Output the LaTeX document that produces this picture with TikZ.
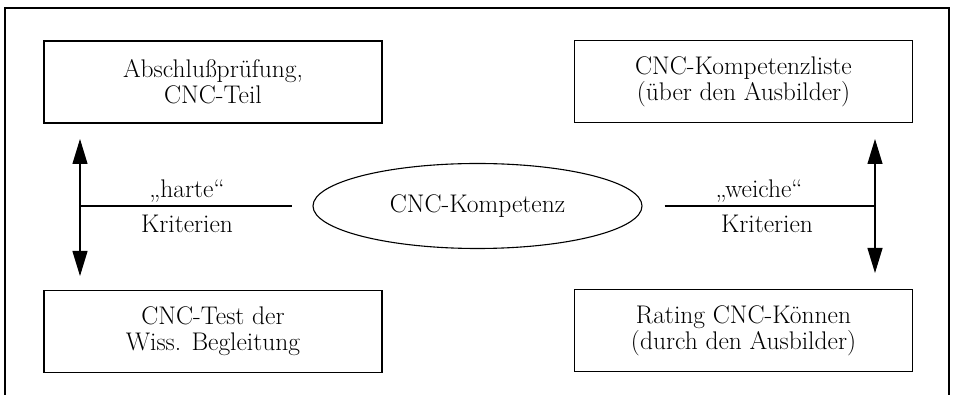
\documentclass[tikz,border=0pt]{standalone}
\usepackage{tikz}
\usetikzlibrary{arrows.meta,positioning,shapes.geometric}

\begin{document}
\begin{tikzpicture}[
  x=1pt, y=-1pt,
  box/.style={draw, line width=1.1pt, minimum width=338pt, minimum height=82pt,
              align=center, inner sep=0pt, font=\fontsize{25.5}{26}\selectfont},
  core/.style={draw, ellipse, line width=1.1pt, minimum width=329pt, minimum height=85pt,
               inner sep=0pt, font=\fontsize{25.5}{26}\selectfont},
  arrow/.style={<->, >={Triangle[length=25pt,width=15pt]}, line width=1.1pt},
  crit/.style={anchor=base, font=\fontsize{25.5}{26}\selectfont}
]

\useasboundingbox (0,0) rectangle (954,395);

% Frame, open at the bottom
\draw[line width=1.4pt] (5,395) |- (949,8) -- (949,395);

% Measures of competence
\node[box] (abschluss) at (213,82)    {Abschlußprüfung,\\CNC-Teil};
\node[box] (liste)     at (743.5,81.5) {CNC-Kompetenzliste\\(über den Ausbilder)};
\node[box] (test)      at (213,331.5) {CNC-Test der\\Wiss. Begleitung};
\node[box] (rating)    at (743.5,330.5) {Rating CNC-Können\\(durch den Ausbilder)};

% Centre
\node[core] (kompetenz) at (477.5,206) {CNC-Kompetenz};

% Hard criteria (left)
\coordinate (hartOben)  at (80,139);
\coordinate (hartUnten) at (80,276);
\coordinate (hartMitte) at (80,206);
\draw[arrow] (hartOben) -- (hartUnten);
\draw[line width=1.1pt] (hartMitte) -- ([xshift=-20pt]kompetenz.west);
\node[crit] (harte) at (187,198) {„harte“};
\node[crit] (kritHart) at (187,233) {Kriterien};

% Soft criteria (right)
\coordinate (weichOben)  at (875,139);
\coordinate (weichUnten) at (875,273);
\coordinate (weichMitte) at (875,206);
\draw[arrow] (weichOben) -- (weichUnten);
\draw[line width=1.1pt] ([xshift=22pt]kompetenz.east) -- (weichMitte);
\node[crit] (weiche) at (759,198) {„weiche“};
\node[crit] (kritWeich) at (767,233) {Kriterien};

\end{tikzpicture}
\end{document}
